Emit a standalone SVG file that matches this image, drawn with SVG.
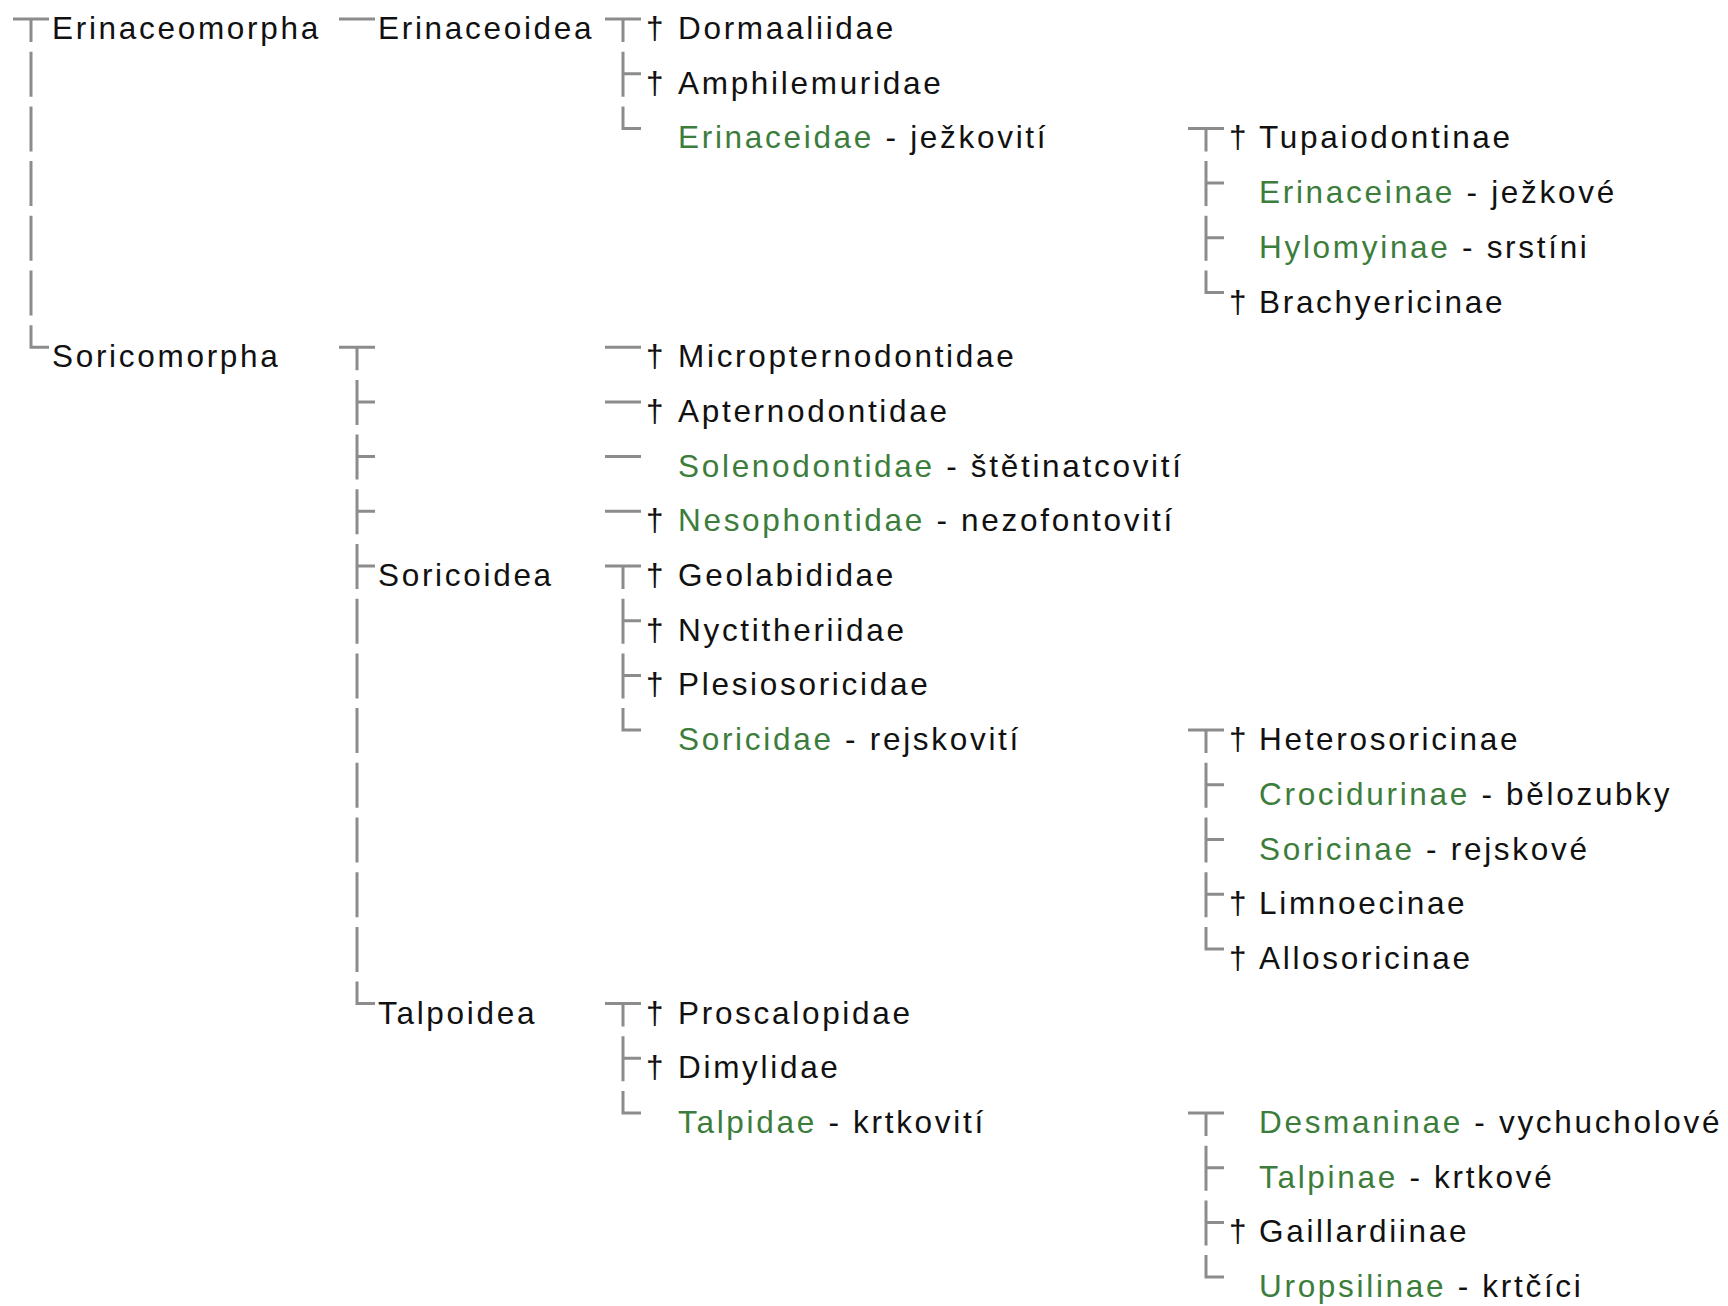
<svg xmlns="http://www.w3.org/2000/svg" width="1728" height="1306" viewBox="0 0 1728 1306">
<style>
text{font-family:"Liberation Sans",Arial,sans-serif;font-size:31.5px;letter-spacing:2.7px;fill:#111}
.g{fill:#3c7d3c}
.c{fill:none;stroke:#8c8c8c;stroke-width:3;stroke-linecap:butt}
</style>
<rect width="1728" height="1306" fill="#fff"/>
<g id="connectors" class="c">
<path d="M13 19H49M31 19V42M31 51.7V96.7M31 106.4V151.4M31 161.1V206.1M31 215.8V260.8M31 270.5V315.5M31 325.2V347.2H49"/>
<path d="M339 19H375M339 347.2H375M357 347.2V370.2M357 379.9V424.9M357 401.9H375M357 434.6V479.6M357 456.6H375M357 489.3V534.3M357 511.3H375M357 544V589M357 566H375M357 598.7V643.7M357 653.4V698.4M357 708.1V753.1M357 762.8V807.8M357 817.5V862.5M357 872.2V917.2M357 926.9V971.9M357 981.6V1003.6H375"/>
<path d="M605 19H641M623 19V42M623 51.7V96.7M623 73.7H641M623 106.4V128.4H641M605 347.2H641M605 401.9H641M605 456.6H641M605 511.3H641M605 566H641M623 566V589M623 598.7V643.7M623 620.7H641M623 653.4V698.4M623 675.4H641M623 708.1V730.1H641M605 1003.6H641M623 1003.6V1026.6M623 1036.3V1081.3M623 1058.3H641M623 1091V1113H641"/>
<path d="M1188 128.4H1224M1206 128.4V151.4M1206 161.1V206.1M1206 183.1H1224M1206 215.8V260.8M1206 237.8H1224M1206 270.5V292.5H1224M1188 730.1H1224M1206 730.1V753.1M1206 762.8V807.8M1206 784.8H1224M1206 817.5V862.5M1206 839.5H1224M1206 872.2V917.2M1206 894.2H1224M1206 926.9V948.9H1224M1188 1113H1224M1206 1113V1136M1206 1145.7V1190.7M1206 1167.7H1224M1206 1200.4V1245.4M1206 1222.4H1224M1206 1255.1V1277.1H1224"/>
</g>
<g id="n-erinaceomorpha"><text x="52" y="39">Erinaceomorpha</text></g>
<g id="n-erinaceoidea"><text x="378" y="39">Erinaceoidea</text></g>
<g id="n-dormaaliidae"><text y="39"><tspan x="646">†</tspan><tspan x="678">Dormaaliidae</tspan></text></g>
<g id="n-amphilemuridae"><text y="93.7"><tspan x="646">†</tspan><tspan x="678">Amphilemuridae</tspan></text></g>
<g id="n-erinaceidae"><text x="678" y="148.4"><tspan class="g">Erinaceidae</tspan> - ježkovití</text></g>
<g id="n-tupaiodontinae"><text y="148.4"><tspan x="1229">†</tspan><tspan x="1259">Tupaiodontinae</tspan></text></g>
<g id="n-erinaceinae"><text x="1259" y="203.1"><tspan class="g">Erinaceinae</tspan> - ježkové</text></g>
<g id="n-hylomyinae"><text x="1259" y="257.8"><tspan class="g">Hylomyinae</tspan> - srstíni</text></g>
<g id="n-brachyericinae"><text y="312.5"><tspan x="1229">†</tspan><tspan x="1259">Brachyericinae</tspan></text></g>
<g id="n-soricomorpha"><text x="52" y="367.2">Soricomorpha</text></g>
<g id="n-micropternodontidae"><text y="367.2"><tspan x="646">†</tspan><tspan x="678">Micropternodontidae</tspan></text></g>
<g id="n-apternodontidae"><text y="421.9"><tspan x="646">†</tspan><tspan x="678">Apternodontidae</tspan></text></g>
<g id="n-solenodontidae"><text x="678" y="476.6"><tspan class="g">Solenodontidae</tspan> - štětinatcovití</text></g>
<g id="n-nesophontidae"><text y="531.3"><tspan x="646">†</tspan><tspan x="678" class="g">Nesophontidae</tspan> - nezofontovití</text></g>
<g id="n-soricoidea"><text x="378" y="586">Soricoidea</text></g>
<g id="n-geolabididae"><text y="586"><tspan x="646">†</tspan><tspan x="678">Geolabididae</tspan></text></g>
<g id="n-nyctitheriidae"><text y="640.7"><tspan x="646">†</tspan><tspan x="678">Nyctitheriidae</tspan></text></g>
<g id="n-plesiosoricidae"><text y="695.4"><tspan x="646">†</tspan><tspan x="678">Plesiosoricidae</tspan></text></g>
<g id="n-soricidae"><text x="678" y="750.1"><tspan class="g">Soricidae</tspan> - rejskovití</text></g>
<g id="n-heterosoricinae"><text y="750.1"><tspan x="1229">†</tspan><tspan x="1259">Heterosoricinae</tspan></text></g>
<g id="n-crocidurinae"><text x="1259" y="804.8"><tspan class="g">Crocidurinae</tspan> - bělozubky</text></g>
<g id="n-soricinae"><text x="1259" y="859.5"><tspan class="g">Soricinae</tspan> - rejskové</text></g>
<g id="n-limnoecinae"><text y="914.2"><tspan x="1229">†</tspan><tspan x="1259">Limnoecinae</tspan></text></g>
<g id="n-allosoricinae"><text y="968.9"><tspan x="1229">†</tspan><tspan x="1259">Allosoricinae</tspan></text></g>
<g id="n-talpoidea"><text x="378" y="1023.6">Talpoidea</text></g>
<g id="n-proscalopidae"><text y="1023.6"><tspan x="646">†</tspan><tspan x="678">Proscalopidae</tspan></text></g>
<g id="n-dimylidae"><text y="1078.3"><tspan x="646">†</tspan><tspan x="678">Dimylidae</tspan></text></g>
<g id="n-talpidae"><text x="678" y="1133"><tspan class="g">Talpidae</tspan> - krtkovití</text></g>
<g id="n-desmaninae"><text x="1259" y="1133"><tspan class="g">Desmaninae</tspan> - vychucholové</text></g>
<g id="n-talpinae"><text x="1259" y="1187.7"><tspan class="g">Talpinae</tspan> - krtkové</text></g>
<g id="n-gaillardiinae"><text y="1242.4"><tspan x="1229">†</tspan><tspan x="1259">Gaillardiinae</tspan></text></g>
<g id="n-uropsilinae"><text x="1259" y="1297.1"><tspan class="g">Uropsilinae</tspan> - krtčíci</text></g>
</svg>
